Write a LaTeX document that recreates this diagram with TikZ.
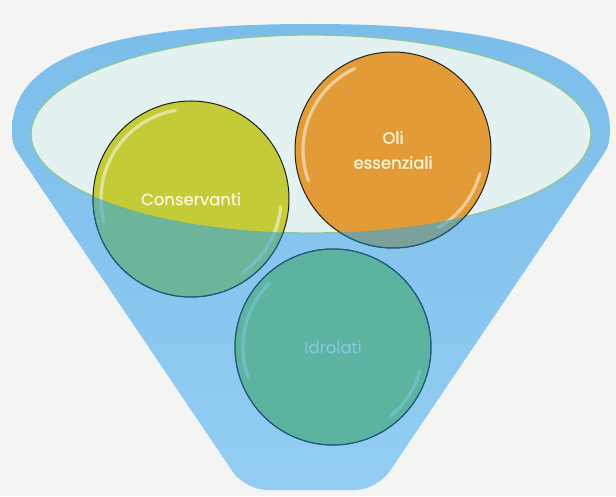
\documentclass[tikz,border=0pt]{standalone}
\usepackage{fontspec}
\setmainfont{Poppins}[FakeBold=0.6]
\definecolor{bg}{RGB}{244,244,242}
\definecolor{funtop}{RGB}{123,189,234}
\definecolor{funbot}{RGB}{147,205,243}
\definecolor{mouth}{RGB}{227,242,241}
\definecolor{mouthline}{RGB}{140,200,150}
\definecolor{yel}{RGB}{195,203,55}
\definecolor{ora}{RGB}{227,155,55}
\definecolor{grn}{RGB}{150,202,70}
\definecolor{veil}{RGB}{52,165,220}
\definecolor{txt}{RGB}{250,246,215}
\definecolor{rimdark}{RGB}{30,30,30}
\definecolor{rimblue}{RGB}{28,90,125}
\begin{document}
\begin{tikzpicture}[x=1pt,y=1pt,
  ball/.style={circle, minimum size=196pt, inner sep=0pt, draw=rimdark, line width=1pt,
    text=txt, font=\fontsize{16.5}{25}\selectfont, align=center},
  hl/.style={white, opacity=0.5, line width=3.2pt, line cap=round},
  veilfill/.style={fill=veil, opacity=0.6},
  mouthstyle/.style={fill=mouth, draw=mouthline, line width=1.3pt}
]
\useasboundingbox (0,0) rectangle (616,496);
\fill[bg] (0,0) rectangle (616,496);
% funnel body
\shade[top color=funtop, bottom color=funbot]
  (23,335) .. controls (13,350) .. (12,365)
  .. controls (12,440) and (110,472) .. (311,472)
  .. controls (512,472) and (610,440) .. (610,365)
  .. controls (609,350) .. (599,335)
  [rounded corners=22pt] -- (377,6) -- (245,6) [sharp corners] -- cycle;
% mouth
\draw[mouthstyle] (311,362) ellipse [x radius=280, y radius=99];
% balls
\node[ball, fill=yel] (cons) at (191,297) {Conservanti};
\node[ball, fill=ora] (oli) at (393,346) {Oli\\essenziali};
\node[ball, fill=grn] (idro) at (333,149) {Idrolati};
% gloss
\draw[hl] (cons.center) ++(100:90) arc[start angle=100, end angle=195, radius=90];
\draw[hl] (cons.center) ++(-5:90) arc[start angle=-5, end angle=-55, radius=90];
\draw[hl] (oli.center) ++(115:90) arc[start angle=115, end angle=200, radius=90];
\draw[hl] (oli.center) ++(-15:90) arc[start angle=-15, end angle=-60, radius=90];
\draw[hl] (idro.center) ++(135:90) arc[start angle=135, end angle=200, radius=90];
\draw[hl] (idro.center) ++(-15:90) arc[start angle=-15, end angle=-50, radius=90];
% front of the funnel over the balls
\begin{scope}
  \clip (0,0) -- (0,362) -- (31,362) arc[start angle=180, end angle=360, x radius=280, y radius=99]
    -- (616,362) -- (616,0) -- cycle;
  \foreach \n in {cons,oli,idro} {
    \fill[veilfill] (\n.center) circle[radius=98];
    \draw[rimblue, line width=1pt] (\n.center) circle[radius=98];
  }
\end{scope}
\end{tikzpicture}
\end{document}
